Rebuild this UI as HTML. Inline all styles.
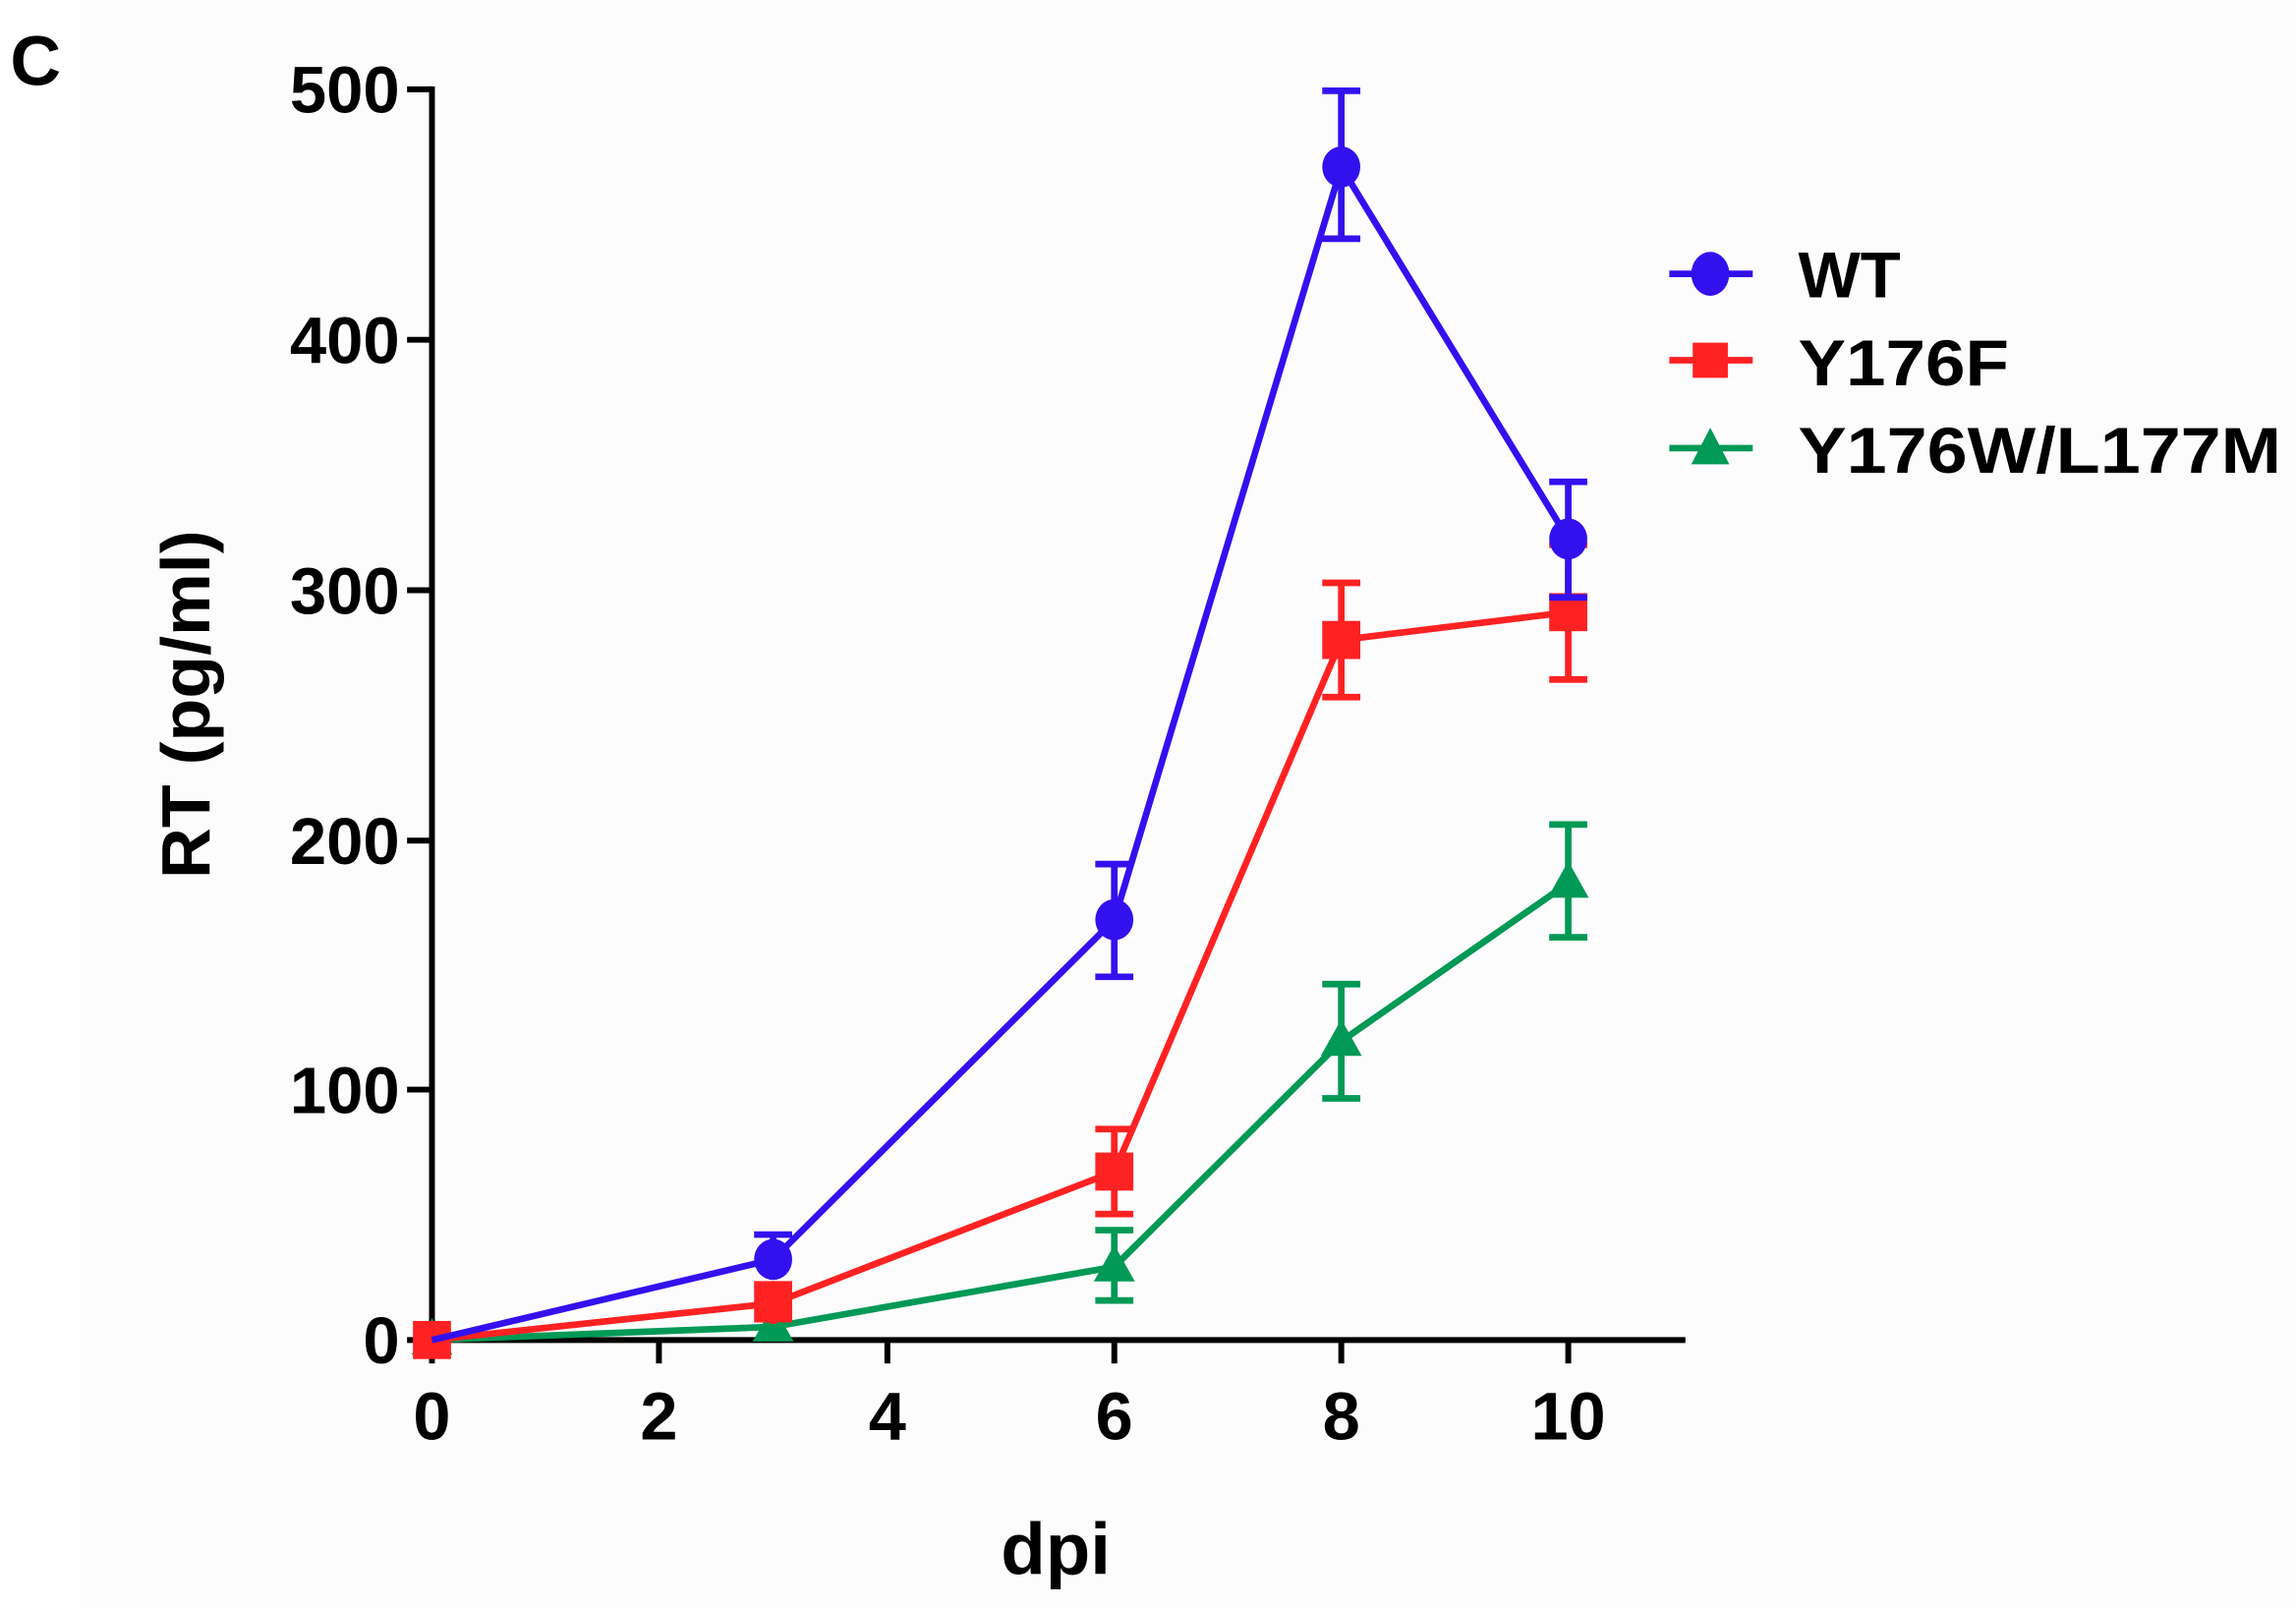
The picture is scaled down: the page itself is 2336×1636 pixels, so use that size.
<!DOCTYPE html>
<html><head><style>html,body{margin:0;padding:0;background:#fff}svg{display:block}</style></head>
<body>
<svg width="2336" height="1636" viewBox="0 0 1568 1098" preserveAspectRatio="none" xmlns="http://www.w3.org/2000/svg" font-family="Liberation Sans, Arial, sans-serif" font-weight="bold">
<rect x="0" y="0" width="1568" height="1098" fill="#fff"/>
<rect x="55" y="0" width="1513" height="1098" fill="#fcfcfd"/>
<text x="7" y="58" font-size="48">C</text>
<g stroke="#000" stroke-width="4" fill="none">
<line x1="295" y1="59" x2="295" y2="917"/>
<line x1="293" y1="915" x2="1151" y2="915"/>
<line x1="278" y1="61" x2="295" y2="61"/>
<line x1="278" y1="232" x2="295" y2="232"/>
<line x1="278" y1="403" x2="295" y2="403"/>
<line x1="278" y1="574" x2="295" y2="574"/>
<line x1="278" y1="744" x2="295" y2="744"/>
<line x1="278" y1="915" x2="295" y2="915"/>
<line x1="295" y1="915" x2="295" y2="931"/>
<line x1="450" y1="915" x2="450" y2="931"/>
<line x1="606" y1="915" x2="606" y2="931"/>
<line x1="761" y1="915" x2="761" y2="931"/>
<line x1="916" y1="915" x2="916" y2="931"/>
<line x1="1071" y1="915" x2="1071" y2="931"/>
</g>
<g font-size="45" text-anchor="end">
<text x="273" y="77">500</text>
<text x="273" y="248">400</text>
<text x="273" y="419">300</text>
<text x="273" y="590">200</text>
<text x="273" y="760">100</text>
<text x="273" y="931">0</text>
</g>
<g font-size="46" text-anchor="middle">
<text x="295" y="983">0</text>
<text x="450" y="983">2</text>
<text x="606" y="983">4</text>
<text x="761" y="983">6</text>
<text x="916" y="983">8</text>
<text x="1071" y="983">10</text>
<text x="721" y="1075" font-size="50">dpi</text>
</g>
<text transform="translate(143,481) rotate(-90)" font-size="47" text-anchor="middle" textLength="238" lengthAdjust="spacingAndGlyphs">RT (pg/ml)</text>
<g stroke="#009955" stroke-width="4.5" fill="none">
<polyline points="295,915 528,906 761,865 916,711 1071,603"/>
<path d="M761,840V888M748,840H774M748,888H774M916,672V750M903,672H929M903,750H929M1071,563V640M1058,563H1084M1058,640H1084"/>
</g>
<g fill="#009955">
<polygon points="295,900 309,925 281,925"/>
<polygon points="528,891 542,916 514,916"/>
<polygon points="761,850 775,875 747,875"/>
<polygon points="916,696 930,721 902,721"/>
<polygon points="1071,588 1085,613 1057,613"/>
</g>
<g stroke="#ff2222" stroke-width="4.5" fill="none">
<polyline points="295,915 528,890 761,800 916,437 1071,418"/>
<path d="M528,877V904M515,877H541M761,771V829M748,771H774M748,829H774M916,398V476M903,398H929M903,476H929M1071,372V464M1058,372H1084M1058,464H1084"/>
</g>
<g fill="#ff2222">
<rect x="282" y="902" width="26" height="26"/>
<rect x="515" y="877" width="26" height="26"/>
<rect x="748" y="787" width="26" height="26"/>
<rect x="903" y="424" width="26" height="26"/>
<rect x="1058" y="405" width="26" height="26"/>
</g>
<g stroke="#3311ee" stroke-width="4.5" fill="none">
<polyline points="295,915 528,860 761,628 916,114 1071,368"/>
<path d="M528,843V860M515,843H541M761,590V667M748,590H774M748,667H774M916,62V163M903,62H929M903,163H929M1071,329V408M1058,329H1084M1058,408H1084"/>
</g>
<g fill="#3311ee">
<ellipse cx="528" cy="860" rx="13" ry="14"/>
<ellipse cx="761" cy="628" rx="13" ry="14"/>
<ellipse cx="916" cy="114" rx="13" ry="14"/>
<ellipse cx="1071" cy="368" rx="13" ry="14"/>
</g>
<g stroke-width="4.5">
<line x1="1140" y1="187" x2="1197" y2="187" stroke="#3311ee"/>
<line x1="1140" y1="246" x2="1197" y2="246" stroke="#ff2222"/>
<line x1="1140" y1="306" x2="1197" y2="306" stroke="#009955"/>
</g>
<ellipse cx="1168" cy="187" rx="13" ry="15" fill="#3311ee"/>
<rect x="1156" y="234" width="24" height="24" fill="#ff2222"/>
<polygon points="1168,292 1181,317 1155,317" fill="#009955"/>
<g font-size="44">
<text x="1228" y="203" textLength="70" lengthAdjust="spacingAndGlyphs">WT</text>
<text x="1228" y="263" textLength="144" lengthAdjust="spacingAndGlyphs">Y176F</text>
<text x="1228" y="323" textLength="330" lengthAdjust="spacingAndGlyphs">Y176W/L177M</text>
</g>
</svg>
</body></html>
